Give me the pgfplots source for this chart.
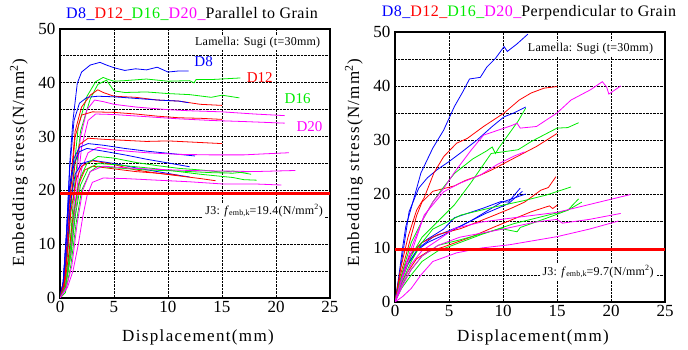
\documentclass[border=0pt]{standalone}
\usepackage{pgfplots}
\pgfplotsset{compat=1.18}
\usepackage{fontspec}
\setmainfont{Liberation Serif}
\definecolor{colB}{RGB}{0,0,255}
\definecolor{colR}{RGB}{255,0,0}
\definecolor{colG}{RGB}{0,235,0}
\definecolor{colM}{RGB}{255,0,255}
\pgfplotsset{
  emb/.style={scale only axis, width=270pt,
    xmin=0,xmax=25,ymin=0,ymax=50,
    xtick={0,5,...,25}, ytick={0,10,...,50}, minor ytick={5,15,...,45},
    grid=both,
    major grid style={black, densely dotted, line width=0.9pt},
    minor grid style={black, densely dotted, line width=0.9pt},
    axis line style={line width=1.6pt},
    tick style={draw=none},
    ticklabel style={font=\fontsize{17}{19}\selectfont},
    /pgf/number format/assume math mode=true,
    xticklabel style={yshift=0pt},
    yticklabel style={xshift=-1pt},
    every axis plot/.append style={line width=0.8pt, mark=none},
  },
  B/.style={colB}, R/.style={colR}, G/.style={colG}, M/.style={colM},
}
\newcommand{\lam}{\fontsize{12}{14}\selectfont\addfontfeature{LetterSpace=2}}
\begin{document}
\begin{tikzpicture}[x=1pt,y=1pt]
\useasboundingbox (0,0) rectangle (688,350);
% ---------------- Left: parallel -----------------
\begin{axis}[emb, height=269pt, at={(60pt,52pt)}, anchor=south west]
\addplot[B] coordinates {(0,0)(0.3,3)(0.6,12)(0.9,25)(1.2,33)(1.6,39.9)(2.0,42)(2.8,43.3)(3.7,43.8)(4.3,43.3)(5,42.8)(6,42.3)(7,42.6)(8,42.4)(9,42.9)(10,42.0)(11,42.2)(11.9,42.2)};
\addplot[G] coordinates {(0,0)(0.4,2)(0.8,10)(1.2,22)(1.7,32)(2.5,37.5)(3.3,40.2)(4.0,41.0)(4.5,40.6)(5,40.3)(6,40.4)(8,40.7)(10,40.3)(12,40.4)(12.4,40)(12.6,40.6)(14,40.6)(16.7,40.9)};
\addplot[G] coordinates {(0,0)(0.5,2)(0.9,9)(1.3,20)(1.9,31)(2.8,37)(3.5,39.7)(4.3,40.5)(5,38.5)(6,38.2)(8,38.3)(10,38.0)(12,37.8)(14,37.3)(15,37.7)(16.6,37.2)};
\addplot[R] coordinates {(0,0)(0.4,3)(0.7,12)(1,22)(1.4,31)(2,35.5)(2.8,37.7)(3.5,38.7)(4,38.2)(5,37.5)(7,37.3)(9,36.8)(11,36.6)(13,36.0)(15,35.8)};
\addplot[B] coordinates {(0,0)(0.3,3)(0.6,12)(0.9,24)(1.3,33)(1.8,36.2)(2.5,37.3)(3.5,37.5)(5,37.4)(7,37.1)(9,36.8)(11,36.6)(11.9,36.3)};
\addplot[M] coordinates {(0,0)(0.5,2)(1,9)(1.4,20)(1.9,30)(2.5,35)(3.2,36.8)(4,36.5)(5,36)(7,35.5)(10,35)(12,34.8)(15,34.6)(18,34.2)(20.8,33.9)};
\addplot[R] coordinates {(0,0)(0.4,3)(0.7,10)(1.0,20)(1.4,30)(2,34)(3,34.6)(5,34.5)(7,34.2)(9,33.8)(11,33.5)(13,33.4)(15,33.2)};
\addplot[M] coordinates {(0,0)(0.5,2)(1,8)(1.5,19)(2,28)(2.6,33)(3.3,34.2)(5,34.1)(8,33.7)(11,33.3)(14,33.0)(17,32.8)(20.8,32.5)};
\addplot[R] coordinates {(0,0)(0.4,3)(0.7,10)(1,18)(1.4,25)(1.8,28.5)(2.6,29.7)(4,29.5)(6,29.3)(8,29.1)(10,29.2)(12,29)(15,28.7)};
\addplot[B] coordinates {(0,0)(0.3,3)(0.6,12)(0.9,21)(1.3,26)(1.8,28)(2.6,28.7)(4,28.4)(6,27.8)(8,27.3)(10,26.9)(12.5,26.4)};
\addplot[M] coordinates {(0,0)(0.5,2)(1,8)(1.5,17)(2,24)(2.6,27)(3.5,28)(5,27.5)(8,27)(11,26.7)(14,26.6)(17,26.6)(19,26.8)(21.2,27)};
\addplot[B] coordinates {(0,0)(0.3,3)(0.6,11)(0.9,20)(1.3,25)(1.8,27.2)(2.5,27.8)(4,27.3)(6,26.6)(8,25.8)(10,25.1)(12,24.4)};
\addplot[B] coordinates {(0,0)(0.3,2)(0.7,10)(1,18)(1.4,23)(2,25)(3,25.6)(5,25)(7,24.2)(9,23.5)(11,22.8)(12,22.5)};
\addplot[R] coordinates {(0,0)(0.4,3)(0.7,9)(1,16)(1.5,22)(2,24.5)(3,25.5)(5,24.8)(7,23.8)(9,23.2)(11,22.7)(13,22.2)(14.4,21.8)};
\addplot[R] coordinates {(0,0)(0.4,2)(0.8,8)(1.2,15)(1.7,21)(2.3,23.8)(3,24.5)(5,24)(7,23.5)(9,23.2)(11,22.8)};
\addplot[G] coordinates {(0,0)(0.5,2)(0.9,8)(1.3,16)(1.8,22)(2.5,25)(3.5,26.3)(5,26)(7,25.2)(9,24.6)(11,24.1)(13,23.8)(15,23.4)(16,23.6)(17.7,23.0)};
\addplot[G] coordinates {(0,0)(0.5,2)(1,8)(1.4,15)(1.9,21)(2.6,24)(3.5,25)(5,24.8)(7,24.4)(9,24)(11,23.5)(13,23)(15,22.6)(16,22.4)(17,22.0)(18.2,21.9)};
\addplot[G] coordinates {(0,0)(0.5,1)(1.0,6)(1.5,14)(2.0,20)(2.8,23.5)(3.5,24.5)(5,24.2)(8,23.8)(11,23.6)(14,23.3)(16,23.2)(17.5,23.5)};
\addplot[M] coordinates {(0,0)(0.6,2)(1.1,6)(1.6,14)(2.1,20)(2.8,23.5)(4,24.5)(6,24.2)(9,23.9)(12,23.7)(15,23.6)(18,23.5)(21.8,23.7)};
\addplot[M] coordinates {(0,0)(0.7,2)(1.2,5)(1.7,10)(2.1,15)(2.5,19)(3,21.5)(4,22.3)(6,22.2)(9,21.9)(12,21.6)(15,21.2)(18,21.2)(20.5,21.0)};
\addplot[colR, line width=2.6pt] coordinates {(0,19.4)(25,19.4)};
\node[fill=white, inner sep=2pt] at (axis cs:18.3,47.4) {\lam Lamella: Sugi (t=30mm)};
\node[fill=white, inner sep=2pt] at (axis cs:18.9,16.2) {\lam J3: \textit{f}\raisebox{-0.3ex}{\fontsize{8}{9}\selectfont emb,k}=19.4(N/mm\textsuperscript{2})};
\node[colB, font=\fontsize{15}{17}\selectfont] at (axis cs:13.3,43.9) {D8};
\node[colR, font=\fontsize{15}{17}\selectfont] at (axis cs:18.5,41.0) {D12};
\node[colG, font=\fontsize{15}{17}\selectfont] at (axis cs:22.0,37.1) {D16};
\node[colM, font=\fontsize{15}{17}\selectfont] at (axis cs:23.1,31.9) {D20};
\end{axis}
% ---------------- Right: perpendicular -----------------
\begin{axis}[emb, height=270pt, at={(395pt,48pt)}, anchor=south west]
\addplot[B] coordinates {(0,0)(0.3,4)(0.7,10)(1.0,14)(1.5,17.4)(2.0,21)(2.4,23.9)(3.5,28.5)(4.5,31.8)(5.5,36.2)(6.3,39)(6.9,41.3)(7.9,41.6)(8.5,43.5)(9.3,45.1)(10.1,47.3)(10.4,46.4)(11.3,47.8)(12.3,49.6)};
\addplot[B] coordinates {(0,0)(0.5,6)(1.3,16.7)(2.2,21.1)(3.0,23)(3.9,24.5)(5,26)(6,27.5)(7.6,30)(9,32.5)(10.1,34.3)(11,35)(11.5,35.5)(12.1,36.1)};
\addplot[B] coordinates {(0,0)(0.5,4)(1,7)(1.5,9)(2.5,11)(4.5,13.5)(5.5,15.6)(8.2,17.4)(9.8,18.6)(10.5,18.5)(11.6,21.1)};
\addplot[B] coordinates {(0,0)(0.5,4)(1,6.5)(2,9.5)(3,11)(4.5,12.4)(7,15)(9.8,18.4)(12.1,20)};
\addplot[B] coordinates {(0,0)(0.5,3.5)(1.2,7)(2.2,10)(3.5,12)(6,14)(8.5,16.5)(10.5,18.2)(11.8,20.5)};
\addplot[R] coordinates {(0,0)(0.5,6)(1.2,12)(2.0,17)(2.7,19.3)(3.6,23.9)(4.5,26.9)(5.7,29.4)(6.7,30.3)(8.2,32.5)(10.1,35)(11.5,37.4)(12.6,38.7)(13.8,39.6)(15,39.9)};
\addplot[R] coordinates {(0,0)(0.5,5)(1.2,10)(2.0,16)(2.5,18.5)(3.5,20.5)(5.5,21.5)(6.5,22.5)(7.9,23.5)(9,24.5)(10.7,26.3)(13.1,28.8)(15,31.2)};
\addplot[R] coordinates {(0,0)(0.5,4)(1,7)(1.5,9)(2.5,11)(4,12.5)(6.1,13.6)(8.5,15.5)(10.7,17.3)(12,18.5)(13.5,20.7)(14.2,21.2)(14.9,23.2)};
\addplot[R] coordinates {(0,0)(0.5,3)(1,5)(2,8)(3,9.3)(4.5,10.2)(7,12)(9.2,13.9)(12.6,16.7)(14.3,17.8)(14.6,17.3)(15,17.9)};
\addplot[G] coordinates {(0,0)(0.6,5)(1.5,11)(2.5,15)(3.5,18.5)(4.2,20.5)(5.5,23.8)(7.2,26.5)(8.5,28)(9.0,28.7)(9.3,27.5)(9.6,28.5)(10.5,31)(11.4,33.5)(12.1,35.9)};
\addplot[G] coordinates {(0,0)(0.6,4)(1.5,8.5)(2.5,12)(4,15)(5.5,18)(7,22)(8.9,27.5)(11.4,28.2)(12.6,29.7)(15,32.2)(16,32.3)(17,33.2)};
\addplot[G] coordinates {(0,0)(0.6,3.5)(1.5,7.5)(2.5,11)(3.5,13.5)(6.1,16.1)(9,17.5)(12,18.8)(14,19.8)(16.3,21.3)};
\addplot[G] coordinates {(0,0)(0.6,3)(1.5,6)(2.5,8.5)(4,10.5)(6,11.5)(9.8,13.6)(11.3,13.0)(11.6,13.8)(14,15.5)(16,17)(17,19.1)};
\addplot[G] coordinates {(0,0)(0.6,2.5)(1.5,5)(2.5,7.5)(4,9.5)(6,11)(8,12.5)(11,14.5)(14,16)(16,17)(17.3,18.5)};
\addplot[M] coordinates {(0,0)(0.7,5)(1.5,10)(2.5,15)(3.5,18.5)(4.5,21)(5.5,24)(7,28)(8.2,30.9)(10.7,32.6)(11.3,33.1)(11.6,32.2)(13.1,32.5)(15,35)(16.3,37.4)(18.1,39.3)(19.2,40.8)(19.6,39.8)(19.8,38.5)(20.9,40)};
\addplot[M] coordinates {(0,0)(0.7,4.5)(1.5,9)(2.7,16.1)(4.5,20.4)(6,22)(7.9,23.5)(9.5,25.5)(11,27)(12,27.8)};
\addplot[M] coordinates {(0,0)(0.7,3.5)(1.5,7)(2.5,9.5)(4,11.5)(5.5,13.6)(8,14.8)(11,15.6)(15,16.6)(18.5,18.3)(21.8,19.9)};
\addplot[M] coordinates {(0,0)(0.7,3)(1.5,6)(2.5,8.5)(4,10.5)(6,12)(10,13.5)(13,14.8)(15,15.3)(15.5,14.6)(18,15.3)(20.9,16.4)};
\addplot[M] coordinates {(0,0)(0.7,1)(1.5,2.5)(2.4,5)(3.5,7.5)(5.7,9.1)(8,10)(10.6,10.6)(15,12.1)(18,13.5)(20.7,15.0)};
\addplot[colR, line width=2.6pt] coordinates {(0,9.7)(25,9.7)};
\node[fill=white, inner sep=2pt] at (axis cs:18.1,47.0) {\lam Lamella: Sugi (t=30mm)};
\node[fill=white, inner sep=2pt] at (axis cs:18.8,5.6) {\lam J3: \textit{f}\raisebox{-0.3ex}{\fontsize{8}{9}\selectfont emb,k}=9.7(N/mm\textsuperscript{2})};
\end{axis}
% ---------------- texts -----------------
\node[font=\fontsize{16}{18}\selectfont\addfontfeature{LetterSpace=3}] at (192,336) {\textcolor{colB}{D8\_}\textcolor{colR}{D12\_}\textcolor{colG}{D16\_}\textcolor{colM}{D20\_}Parallel to Grain};
\node[font=\fontsize{16}{18}\selectfont\addfontfeature{LetterSpace=3}] at (529,337) {\textcolor{colB}{D8\_}\textcolor{colR}{D12\_}\textcolor{colG}{D16\_}\textcolor{colM}{D20\_}Perpendicular to Grain};
\node[font=\fontsize{17}{19}\selectfont\addfontfeature{LetterSpace=8}] at (198,13) {Displacement(mm)};
\node[font=\fontsize{17}{19}\selectfont\addfontfeature{LetterSpace=8}] at (533,13) {Displacement(mm)};
\node[rotate=90, font=\fontsize{17}{19}\selectfont\addfontfeature{LetterSpace=8}] at (19,187) {Embedding stress(N/mm\textsuperscript{2})};
\node[rotate=90, font=\fontsize{17}{19}\selectfont\addfontfeature{LetterSpace=8}] at (354,187) {Embedding stress(N/mm\textsuperscript{2})};
\end{tikzpicture}
\end{document}
